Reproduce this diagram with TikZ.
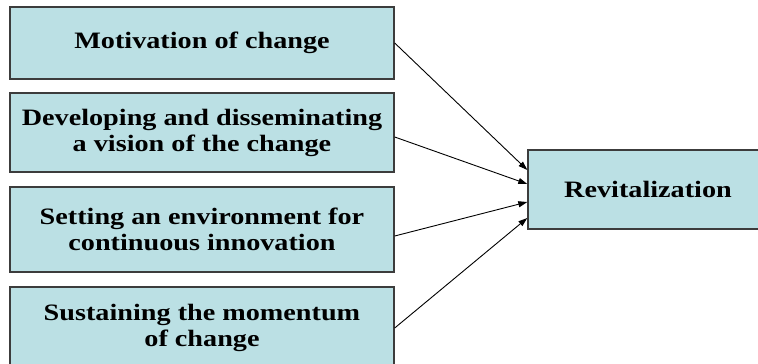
\documentclass[tikz,border=0pt]{standalone}
\usepackage{fontspec}
\setmainfont{Liberation Serif}
\newfontfamily\boxfont{Liberation Serif}[FakeStretch=1.2]
\usetikzlibrary{arrows.meta,calc}
\definecolor{boxfill}{RGB}{187,224,228}
\definecolor{boxline}{RGB}{60,60,60}
\begin{document}
\begin{tikzpicture}[x=1pt,y=-1pt,
  box/.style={draw=boxline,line width=1.4pt,fill=boxfill,minimum width=384pt,
    align=center,font=\boxfont\fontsize{23.5}{26}\selectfont\bfseries,inner sep=0pt},
  conn/.style={line width=0.9pt,-{Triangle[length=9pt,width=6pt]}}]
\useasboundingbox (0,0) rectangle (758,364);
\clip (0,0) rectangle (758,364);
\node[box,minimum height=72pt] (b1) at (202,43) {Motivation of change};
\node[box,minimum height=79pt] (b2) at (202,132.5) {Developing and disseminating\\a vision of the change};
\node[box,minimum height=85pt] (b3) at (202,229.5) {Setting an environment for\\continuous innovation};
\node[box,minimum height=82pt] (b4) at (202,328) {Sustaining the momentum\\of change};
\node[box,minimum width=240pt,minimum height=79pt] (r) at (648,189.5) {Revitalization};
\coordinate (e1) at ($(r.west)+(0,-19.5)$);
\coordinate (e2) at ($(r.west)+(0,-5.5)$);
\coordinate (e3) at ($(r.west)+(0,12.5)$);
\coordinate (e4) at ($(r.west)+(0,28.5)$);
\draw[conn] (b1.east) -- (e1);
\draw[conn] ($(b2.east)+(0,4.5)$) -- (e2);
\draw[conn] ($(b3.east)+(0,6.5)$) -- (e3);
\draw[conn] (b4.east) -- (e4);
\end{tikzpicture}
\end{document}
